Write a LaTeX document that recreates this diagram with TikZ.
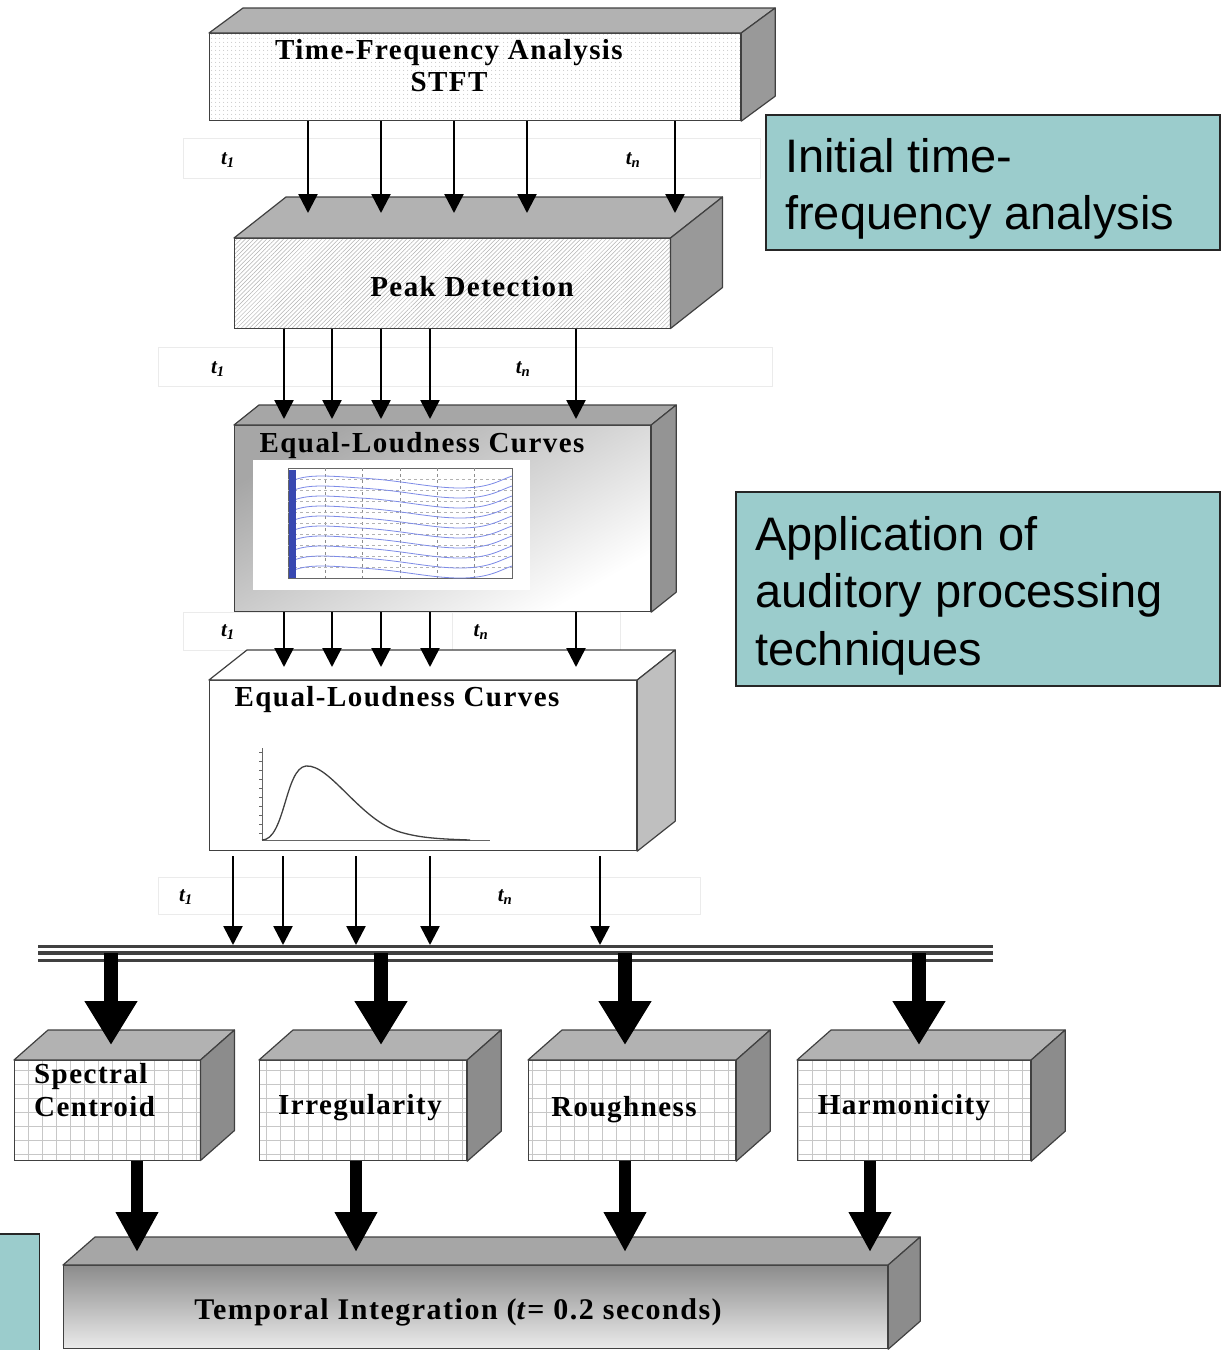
\documentclass[tikz,border=0pt]{standalone}
\usepackage{fontspec}
\setmainfont{Liberation Serif}
\newfontfamily\blockfont{Liberation Serif}[LetterSpace=5]
\newfontfamily\notefont{Liberation Sans}
\usetikzlibrary{arrows.meta, patterns.meta, positioning, calc}
\definecolor{noteteal}{RGB}{155,204,204}
\definecolor{plotblue}{RGB}{70,90,220}

\begin{document}
\begin{tikzpicture}[x=1pt, y=-1pt]
  \tikzstyle{front} = [draw=black!75, line width=1.2pt, inner sep=0pt, anchor=north west]
  \tikzstyle{face} = [draw=black!75, line width=1.2pt, line join=round]
  \tikzstyle{blocktext} = [font=\blockfont\bfseries\fontsize{29}{32}\selectfont, inner sep=0pt]
  \tikzstyle{tlab} = [font=\bfseries\itshape\fontsize{21}{21}\selectfont, inner sep=0pt]
  \tikzstyle{strip} = [draw=black!8, fill=white, inner sep=0pt, anchor=north west]
  \tikzstyle{note} = [draw=black!85, line width=1.5pt, fill=noteteal, inner sep=0pt, anchor=north west]
  \tikzstyle{notetext} = [font=\notefont\fontsize{47}{57.5}\selectfont, align=left, inner sep=0pt, anchor=north west]
  \tikzstyle{flow} = [line width=2.6pt, -{Triangle[width=19pt,length=19pt]}]
  \tikzstyle{bigflow} = [line width=14pt, -{Triangle[width=50pt,length=44pt]}]
  \tikzstyle{midflow} = [line width=12pt, -{Triangle[width=40pt,length=40pt]}]
  \tikzstyle{gridfill} = [preaction={fill=white}, pattern={Hatch[distance=14pt,line width=.5pt]}, pattern color=black!22]

  \useasboundingbox (0,0) rectangle (1224,1350);

  % time strips
  \node[strip, minimum width=577pt, minimum height=40pt] (s1) at (183,138) {};
  \node[strip, minimum width=614pt, minimum height=39pt] (s2) at (158,347) {};
  \node[strip, minimum width=269pt, minimum height=38pt] (s3a) at (183,612) {};
  \node[strip, minimum width=168pt, minimum height=38pt] (s3b) at (452,612) {};
  \node[strip, minimum width=542pt, minimum height=37pt] (s4) at (158,877) {};
  \node[tlab] (s1-a) at (228,160) {t\textsubscript{1}};
  \node[tlab] (s1-b) at (633,160) {t\textsubscript{n}};
  \node[tlab] (s2-a) at (218,369) {t\textsubscript{1}};
  \node[tlab] (s2-b) at (523,369) {t\textsubscript{n}};
  \node[tlab] (s3-a) at (228,632) {t\textsubscript{1}};
  \node[tlab] (s3-b) at (481,632) {t\textsubscript{n}};
  \node[tlab] (s4-a) at (186,897) {t\textsubscript{1}};
  \node[tlab] (s4-b) at (505,897) {t\textsubscript{n}};

  % block fronts
  \node[front, minimum width=531pt, minimum height=87pt, preaction={fill=white}, pattern={Dots[distance=4pt,radius=.6pt]}, pattern color=black!25] (tfa) at (209,33) {};
  \node[front, minimum width=436pt, minimum height=90pt, preaction={fill=white}, pattern={Lines[angle=45,distance=3pt,line width=.5pt]}, pattern color=black!30] (peak) at (234,238) {};
  \node[front, minimum width=416pt, minimum height=186pt, top color=black!35, bottom color=white, shading angle=30] (elc) at (234,425) {};
  \node[front, minimum width=427pt, minimum height=170pt, fill=white] (elw) at (209,680) {};
  \node[front, minimum width=186pt, minimum height=100pt, gridfill] (spc) at (14,1060) {};
  \node[front, minimum width=207pt, minimum height=100pt, gridfill] (irr) at (259,1060) {};
  \node[front, minimum width=207pt, minimum height=100pt, gridfill] (rgh) at (528,1060) {};
  \node[front, minimum width=233pt, minimum height=100pt, gridfill] (hrm) at (797,1060) {};
  \node[front, minimum width=824pt, minimum height=83pt, top color=black!45, bottom color=black!8] (tmp) at (63,1265) {};

  % top and side faces
  \foreach \n/\dx/\dy/\tc/\sc/\ty in {tfa/34/25/black!30/black!40/0, peak/52/41/black!30/black!40/25,
      elc/25/20/black!35/black!42/6, elw/38/30/white/black!25/13, spc/34/30/black!30/black!45/15,
      irr/34/30/black!30/black!45/15, rgh/34/30/black!30/black!45/15, hrm/34/30/black!30/black!45/15,
      tmp/32/28/black!35/black!45/13}
  {
    \draw[face, fill=\tc] (\n.north west) -- ++(\dx pt,\dy pt) -- ([shift={(\dx pt,\dy pt)}]\n.north east) -- (\n.north east) -- cycle;
    \draw[face, fill=\sc] (\n.north east) -- ++(\dx pt,\dy pt) -- ([shift={(\dx pt,\dy pt)}]\n.south east) -- (\n.south east) -- cycle;
    \coordinate (\n-top) at ([yshift=\ty pt]\n.north);
  }

  % equal-loudness contours
  \node[fill=white, minimum width=277pt, minimum height=130pt, inner sep=0pt, anchor=north west] (elc-plot) at (253,460) {};
  \draw[black!60, line width=.5pt] (288,468) rectangle (512,578);
  \foreach \k in {1,...,5}
    \draw[black!45, dashed, line width=.4pt] ({288+\k*37.3},468) -- ({288+\k*37.3},578);
  \foreach \k in {1,...,9}
    \draw[black!30, dashed, line width=.4pt] (288,{468+\k*11}) -- (512,{468+\k*11});
  \foreach \k in {0,...,9}
    \draw[plotblue!70, line width=.8pt] (294,{480+\k*10}) .. controls (310,{474+\k*10}) and (330,{476+\k*10}) .. (360,{478+\k*10})
      .. controls (400,{480+\k*10}) and (430,{488+\k*10}) .. (460,{488+\k*10})
      .. controls (490,{488+\k*10}) and (500,{480+\k*10}) .. (512,{476+\k*10});
  \fill[plotblue!80!black] (289,470) rectangle (296,578);

  % loudness curve
  \draw[black!60, line width=.6pt] (262,748) -- (262,840) -- (490,840);
  \foreach \k in {0,...,9}
    \draw[black!60, line width=.5pt] (259,{752+\k*9}) -- (262,{752+\k*9});
  \draw[black!75, line width=1.3pt] (262,840) .. controls (285,840) and (285,768) .. (306,766)
    .. controls (330,764) and (360,820) .. (400,832) .. controls (420,838) and (440,839) .. (470,840);

  % block labels
  \node[blocktext, align=center] (tfa-t) at (449,66) {Time-Frequency Analysis\\STFT};
  \node[blocktext] (peak-t) at (472,287) {Peak Detection};
  \node[blocktext] (elc-t) at (422,446) {Equal-Loudness Curves};
  \node[blocktext] (elw-t) at (397,700) {Equal-Loudness Curves};
  \node[blocktext, align=left, anchor=west, font=\blockfont\bfseries\fontsize{29}{33}\selectfont] (spc-t) at (34,1090) {Spectral\\Centroid};
  \node[blocktext] (irr-t) at (360,1108) {Irregularity};
  \node[blocktext] (rgh-t) at (624,1110) {Roughness};
  \node[blocktext] (hrm-t) at (904,1108) {Harmonicity};
  \node[blocktext, font=\blockfont\bfseries\fontsize{30}{32}\selectfont] (tmp-t) at (458,1312) {Temporal Integration (\textit{t}= 0.2 seconds)};

  % bus
  \coordinate (bus) at (38,953);
  \coordinate (bus-e) at (993,953);
  \coordinate (bus-top) at (38,945);
  \draw[line width=17pt, black!75] (bus) -- (bus-e);
  \draw[line width=11pt, white] (bus) -- (bus-e);
  \draw[line width=3.5pt, black!75] (bus) -- (bus-e);

  % arrows
  \foreach \x in {308,381,454,527,675}
    \draw[flow] (tfa.south -| \x,0) -- (peak-top -| \x,0);
  \foreach \x in {284,332,381,430,576}
    \draw[flow] (peak.south -| \x,0) -- (elc-top -| \x,0);
  \foreach \x in {284,332,381,430,576}
    \draw[flow] (elc.south -| \x,0) -- (elw-top -| \x,0);
  \foreach \x in {233,283,356,430,600}
    \draw[flow, shorten <=5pt] (elw.south -| \x,0) -- (bus-top -| \x,0);
  \foreach \n/\x in {spc/111, irr/381, rgh/625, hrm/919}
    \draw[bigflow] (bus -| \x,0) -- (\n-top -| \x,0);
  \foreach \n/\x in {spc/137, irr/356, rgh/625, hrm/870}
    \draw[midflow] (\n.south -| \x,0) -- (tmp-top -| \x,0);

  % notes
  \node[note, minimum width=454pt, minimum height=135pt] (ina) at (765,114) {};
  \node[notetext] (ina-t) at (785,138) {Initial time-\\frequency analysis};
  \node[note, minimum width=484pt, minimum height=194pt] (apt) at (735,491) {};
  \node[notetext] (apt-t) at (755,516) {Application of\\auditory processing\\techniques};
  \node[note, minimum width=46pt, minimum height=125pt, anchor=north east] (tmn) at (40,1233) {};
\end{tikzpicture}
\end{document}
